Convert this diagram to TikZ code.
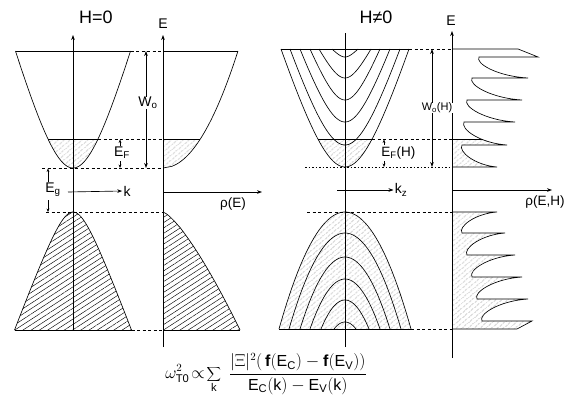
\documentclass[tikz,border=0pt]{standalone}
\usepackage{fontspec}
\setmainfont{Liberation Sans}
\setsansfont{Liberation Sans}
\usetikzlibrary{arrows.meta,patterns.meta}
\begin{document}
\begin{tikzpicture}[x=1pt,y=-1pt,line width=0.65pt,
  tip/.style={-{Stealth[length=5pt,width=3.6pt]}},
  dtip/.style={{Stealth[length=5pt,width=3.6pt]}-{Stealth[length=5pt,width=3.6pt]}},
  stip/.style={-{Stealth[length=3.5pt,width=2.8pt]}},
  dashln/.style={dash pattern=on 3pt off 2.5pt,line width=0.5pt},
  dotln/.style={dash pattern=on 1.5pt off 2pt,line width=0.5pt},
  hatch/.style={pattern={Lines[angle=40,distance=4pt,line width=0.45pt]}},
  vhatch/.style={pattern={Lines[angle=33,distance=4.5pt,line width=0.45pt]}},
  lbl/.style={font=\fontsize{14}{16}\selectfont,inner sep=1pt},
  ttl/.style={font=\fontsize{18}{20}\selectfont,inner sep=1pt}]
\useasboundingbox (0,0) rectangle (569,404);

% ================= LEFT PANEL (H=0) =================
\node[ttl] (tH0) at (96,17) {H=0};

% hatched regions
\fill[hatch] plot[domain=-25:25,samples=30] ({73+\x},{168-126.7*(sqrt(1+(\x/35)*(\x/35))-1)}) -- cycle;
\fill[vhatch] plot[domain=-58.5:58.5,samples=60] ({73+\x},{212+45.7*(sqrt(1+(\x/17)*(\x/17))-1)}) -- cycle;
\begin{scope}
  \clip (163,139) rectangle (250,168);
  \fill[hatch] (163,51) -- plot[domain=51:168,samples=60] ({163+6.93*sqrt(168-\x)},{\x}) -- cycle;
\end{scope}
\fill[vhatch] (163,212) -- plot[domain=212.05:330,samples=60] ({163+77*((\x-212)/118)^0.75},{\x}) -- (163,330) -- cycle;

% conduction band
\draw (15.5,51) -- (130.5,51);
\draw plot[domain=-57.5:57.5,samples=70] ({73+\x},{168-126.7*(sqrt(1+(\x/35)*(\x/35))-1)});
\draw (48,139) -- (98,139);
% valence band
\draw plot[domain=-58.5:58.5,samples=70] ({73+\x},{212+45.7*(sqrt(1+(\x/17)*(\x/17))-1)});
\draw (14.5,330) -- (131.5,330);
% DOS
\draw (163,51) -- (238,51);
\draw plot[domain=51:168,samples=70] ({163+6.93*sqrt(168-\x)},{\x});
\draw (163,139) -- (200.3,139);
\draw (163,212) -- plot[domain=212.05:330,samples=70] ({163+77*((\x-212)/118)^0.75},{\x});
\draw[line width=0.4pt] (163,330) -- (240,330);

% dashed guide lines
\draw[dashln] (130.5,51) -- (163,51);
\draw[dashln] (98,139) -- (163,139);
\draw[dashln] (42,168) -- (163,168);
\draw[dashln] (46,212) -- (163,212);
\draw[dashln] (131.5,330) -- (163,330);

% axes
\coordinate (kA0) at (73,330); \coordinate (kA1) at (73,35);
\draw[tip] (kA0) -- (kA1);
\coordinate (eA0) at (163,347); \coordinate (eA1) at (163,35);
\draw[tip] (eA0) -- (eA1);
\node[lbl] (eLab) at (163,24) {E};
\coordinate (rA0) at (163,192); \coordinate (rA1) at (262,192);
\draw[tip] (rA0) -- (rA1);
\node[lbl,font=\fontsize{13.5}{15}\selectfont] (rLab) at (233,204) {ρ(E)};
\coordinate (kk0) at (68,192);
\node[lbl] (kLab) at (127,191) {k};
\draw[tip] (kk0) -- (kLab.west);

% W0
\coordinate (w0a) at (146,51); \coordinate (w0b) at (146,168);
\draw[dtip] (w0a) -- (w0b);
\node[lbl,fill=white,inner sep=0.5pt] (w0Lab) at (148,103) {W\textsubscript{o}};
% EF
\node[lbl] (efLab) at (122,153) {E\textsubscript{F}};
\coordinate (ef0) at (120,139.5); \coordinate (ef1) at (120,168);
\coordinate (efu) at (120,146); \coordinate (efd) at (120,161);
\draw[stip] (efu) -- (ef0);
\draw[stip] (efd) -- (ef1);
% Eg
\node[lbl] (egLab) at (53,190) {E\textsubscript{g}};
\coordinate (eg0) at (48,168.5); \coordinate (eg1) at (48,212);
\coordinate (egu) at (48,182); \coordinate (egd) at (48,200);
\draw[stip] (egu) -- (eg0);
\draw[stip] (egd) -- (eg1);

% ================= RIGHT PANEL (H != 0) =================
\node[ttl] (tHn) at (376,17) {H≠0};

% DOS paths
\def\dosCR{(452,167) -- (497,167) .. controls (475,165.2) and (458,151.6) .. (462,145) -- (507,145) .. controls (480,143.2) and (460,128.9) .. (464,122) -- (515,122) .. controls (485,120.2) and (463,106.6) .. (467,100) -- (522,100) .. controls (491,98.2) and (468,84.6) .. (472,78) -- (528,78) .. controls (497,76.3) and (475,63.3) .. (479,57) -- (538,57) -- (518,49) -- (452,49)}
\def\dosVR{(452,212) -- (497,212) .. controls (474.8,213.7) and (458,226.7) .. (462,233) -- (505,233) .. controls (481,234.8) and (463,248.4) .. (467,255) -- (515,255) .. controls (488,256.8) and (468,270.4) .. (472,277) -- (522,277) .. controls (493.8,278.8) and (473,292.4) .. (477,299) -- (528,299) .. controls (499.2,300.8) and (478,314.4) .. (482,321) -- (532,321) -- (517,329) -- (452,329)}

% hatched regions
\fill[hatch] plot[domain=-27.2:27.2,samples=30] ({345+\x},{167-123.99*(sqrt(1+(\x/38.4)*(\x/38.4))-1)}) -- cycle;
\fill[hatch] plot[domain=-66:66,samples=60] ({345+\x},{212+117*(\x/66)*(\x/66)}) -- cycle;
\begin{scope}
  \clip \dosCR -- cycle;
  \fill[hatch] (452,139) rectangle (560,167);
  \draw (452,139) -- (560,139);
\end{scope}
\fill[hatch] \dosVR -- cycle;

% conduction Landau levels
\draw (281,49) -- (409,49);
\foreach \vv/\hw in {167/64,145/55,122/45,100/35,78/26,57/13}
  \draw plot[domain=-\hw:\hw,samples=50] ({345+\x},{\vv-(\vv-49)/0.94365*(sqrt(1+(\x/(0.6*\hw))*(\x/(0.6*\hw)))-1)});
\draw (317.8,139) -- (372.2,139);
% valence Landau levels
\foreach \vv/\hw in {212/66,233/56,257/45,279/35,300/24,322/11}
  \draw plot[domain=-\hw:\hw,samples=50] ({345+\x},{\vv+(329-\vv)*(\x/\hw)*(\x/\hw)});
\draw (279,329) -- (411,329);

% DOS outlines
\draw \dosCR;
\draw \dosVR;

% dashed guide lines
\draw[dashln] (409,49) -- (452,49);
\draw[dashln] (372.2,139) -- (452,139);
\draw[dotln] (305,167) -- (452,167);
\draw[dashln] (307,212) -- (452,212);
\draw[dashln] (411,329) -- (452,329);

% axes
\coordinate (kzA0) at (345,347); \coordinate (kzA1) at (345,33);
\draw (kzA0) -- (kzA1);
\coordinate (EA0) at (452,358); \coordinate (EA1) at (452,31);
\draw[tip] (EA0) -- (EA1);
\node[lbl] (ELab) at (451,21) {E};
\coordinate (RA0) at (452,190); \coordinate (RA1) at (552,190);
\draw[tip] (RA0) -- (RA1);
\node[lbl,font=\fontsize{13.5}{15}\selectfont] (RLab) at (545,202) {ρ(E,H)};
\coordinate (kz0) at (337,190);
\node[lbl] (kzLab) at (401,190) {k\textsubscript{z}};
\draw[tip] (kz0) -- (kzLab.west);

% W0(H)
\coordinate (wHa) at (432,49); \coordinate (wHb) at (432,167);
\draw[dtip] (wHa) -- (wHb);
\node[lbl,fill=white,inner sep=0.3pt,font=\fontsize{11}{13}\selectfont] (wHLab) at (437,108) {W\textsubscript{o}(H)};
% EF(H)
\node[lbl,anchor=west,font=\fontsize{13.5}{15}\selectfont] (efHLab) at (380,153) {E\textsubscript{F}(H)};
\coordinate (efH0) at (384,139.5); \coordinate (efH1) at (384,167);
\coordinate (efHu) at (384,145); \coordinate (efHd) at (384,161);
\draw[stip] (efHu) -- (efH0);
\draw[stip] (efHd) -- (efH1);

% ================= FORMULA =================
\node[font=\fontsize{16}{18}\selectfont] (formula) at (266,374)
  {$\displaystyle \omega^{2}_{\mathsf{T0}}\!\propto\!\sum_{\mathsf{k}}\;\frac{|\Xi|^{2}(\,\mathbf{f}(\mathsf{E_C})-\mathbf{f}(\mathsf{E_V}))}{\mathsf{E_C(k)-E_V(k)}}$};
\end{tikzpicture}
\end{document}
